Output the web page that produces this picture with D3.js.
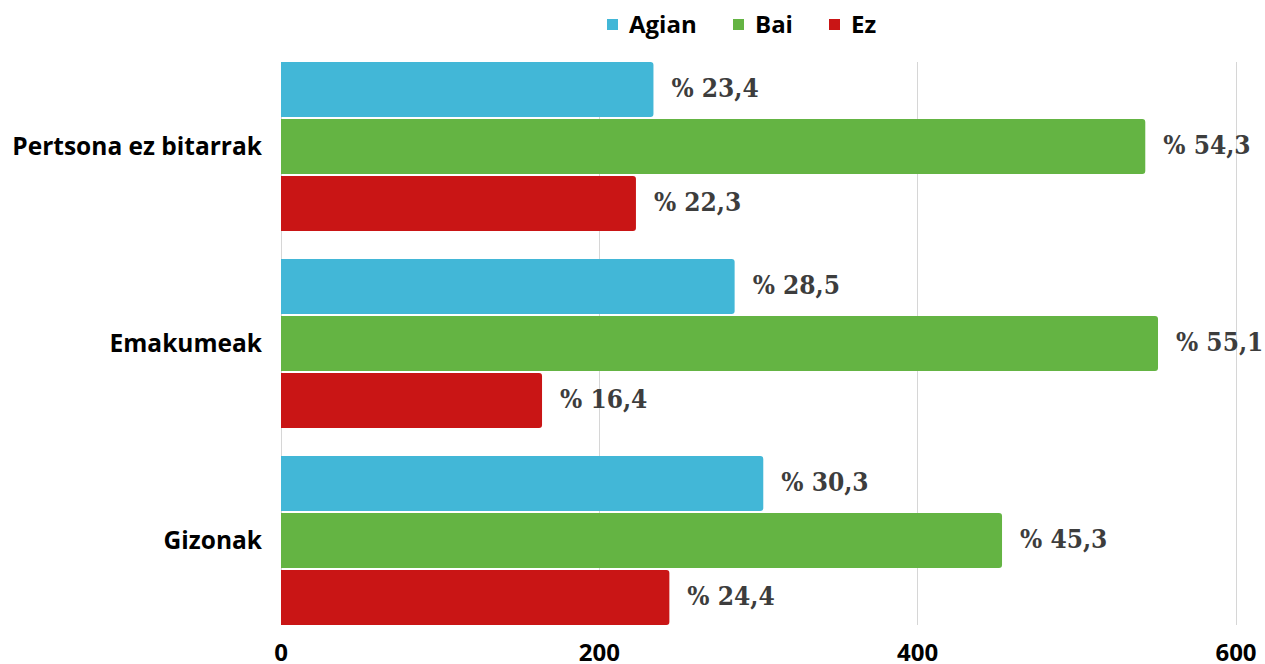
<!DOCTYPE html>
<html>
<head>
<meta charset="utf-8">
<script src="https://cdn.jsdelivr.net/npm/d3@7"></script>
<style>
  html, body { margin: 0; padding: 0; background: #fff; }
  svg { display: block; }
</style>
</head>
<body>
<svg id="chart" width="1265" height="664"></svg>
<script>
// Groups, series and their values (per thousand respondents)
const categories = ["Pertsona ez bitarrak", "Emakumeak", "Gizonak"];
const seriesNames = ["Agian", "Bai", "Ez"];
const seriesColors = ["#42b7d7", "#64b443", "#c91515"];
const agian = [234, 285, 303];
const bai = [543, 551, 453];
const ez = [223, 164, 244];
const xTicks = [0, 200, 400, 600];

const seriesValues = [agian, bai, ez];

const svg = d3.select("#chart");
const margin = { top: 62, right: 29, bottom: 39, left: 281 };
const W = 1265, H = 664;

const x = d3.scaleLinear().domain([0, 600]).range([margin.left, W - margin.right]);
const y0 = d3.scaleBand().domain(categories).range([margin.top, H - margin.bottom])
  .paddingInner(0.142).paddingOuter(0);
const y1 = d3.scaleBand().domain(seriesNames).range([0, y0.bandwidth()])
  .paddingInner(0.035).paddingOuter(0);

// Vertical grid lines
svg.append("g")
  .selectAll("line")
  .data(xTicks)
  .join("line")
  .attr("x1", d => x(d)).attr("x2", d => x(d))
  .attr("y1", margin.top).attr("y2", H - margin.bottom)
  .attr("stroke", "#d6d6d6").attr("stroke-width", 1)
  .attr("shape-rendering", "crispEdges");

// Bars with rounded right end
function barPath(x0, y, w, h, r) {
  r = Math.min(r, w, h / 2);
  return `M${x0},${y}H${x0 + w - r}Q${x0 + w},${y} ${x0 + w},${y + r}` +
         `V${y + h - r}Q${x0 + w},${y + h} ${x0 + w - r},${y + h}H${x0}Z`;
}

const rows = [];
categories.forEach((c, i) => {
  seriesNames.forEach((s, j) => {
    rows.push({ cat: c, series: s, value: seriesValues[j][i], color: seriesColors[j] });
  });
});

const groups = svg.append("g");
groups.selectAll("path")
  .data(rows)
  .join("path")
  .attr("d", d => barPath(x(0), y0(d.cat) + y1(d.series), x(d.value) - x(0), y1.bandwidth(), 3))
  .attr("fill", d => d.color);

// Value labels
const fmt = v => "% " + (v / 10).toFixed(1).replace(".", ",");
groups.selectAll("text")
  .data(rows)
  .join("text")
  .attr("x", d => x(d.value) + 18)
  .attr("y", d => y0(d.cat) + y1(d.series) + y1.bandwidth() / 2 - 2)
  .attr("dy", "0.35em")
  .attr("font-family", "'DejaVu Serif', serif")
  .attr("font-weight", "bold")
  .attr("font-stretch", "condensed")
  .attr("font-size", 26)
  .attr("fill", "#3d3d3d")
  .text(d => fmt(d.value));

// Category labels
svg.append("g")
  .selectAll("text")
  .data(categories)
  .join("text")
  .attr("x", margin.left - 19)
  .attr("y", d => y0(d) + y0.bandwidth() / 2)
  .attr("dy", "0.35em")
  .attr("text-anchor", "end")
  .attr("font-family", "'Open Sans', sans-serif")
  .attr("font-weight", "bold")
  .attr("font-size", 24.5)
  .attr("fill", "#000")
  .text(d => d);

// X axis tick labels
svg.append("g")
  .selectAll("text")
  .data(xTicks)
  .join("text")
  .attr("x", d => x(d))
  .attr("y", 661)
  .attr("font-family", "'Open Sans', sans-serif")
  .attr("font-weight", "bold")
  .attr("text-anchor", "middle")
  .attr("font-size", 24)
  .attr("fill", "#000")
  .text(d => d);

// Legend
const legendX = [607, 733, 829];
const legend = svg.append("g");
seriesNames.forEach((s, i) => {
  legend.append("rect")
    .attr("x", legendX[i]).attr("y", 19)
    .attr("width", 11).attr("height", 11)
    .attr("fill", seriesColors[i]);
  legend.append("text")
    .attr("x", legendX[i] + 22).attr("y", 25)
    .attr("dy", "0.35em")
    .attr("font-family", "'Open Sans', sans-serif")
    .attr("font-weight", "bold")
    .attr("font-size", 24)
    .attr("fill", "#000")
    .text(s);
});
</script>
</body>
</html>
